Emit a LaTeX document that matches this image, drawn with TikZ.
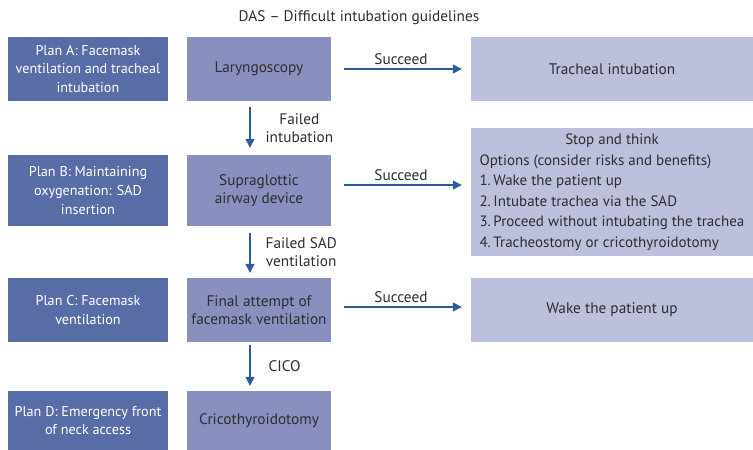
\documentclass[tikz,border=0pt]{standalone}
\usepackage{fontspec}
\setmainfont{PT Sans}
\usetikzlibrary{arrows.meta}

\definecolor{planblue}{HTML}{586CA5}
\definecolor{stepblue}{HTML}{8990BF}
\definecolor{outblue}{HTML}{BCC0DD}
\definecolor{arrowblue}{HTML}{2D5C9B}
\definecolor{txtgray}{HTML}{2E2E2E}

\begin{document}
\begin{tikzpicture}[x=1pt, y=-1pt,
    every node/.style={font=\fontsize{15.3}{18.5}\selectfont, text=txtgray, inner sep=0pt},
    plan/.style={fill=planblue, text=white, align=center, minimum width=160pt,
        font=\fontsize{14.2}{18.7}\selectfont},
    stepbox/.style={fill=stepblue, align=center, minimum width=144pt},
    outbox/.style={fill=outblue, align=center, minimum width=282pt},
    flow/.style={draw=arrowblue, line width=1.2pt, -{Triangle[length=9pt, width=9pt]}},
    lbl/.style={align=center, anchor=west}]
    \useasboundingbox (0,0) rectangle (753,450);

    % title
    \node (title) at (359,18) {DAS -- Difficult intubation guidelines};

    % plans (left column)
    \node[plan, minimum height=64pt] (planA) at (88,69) {Plan A: Facemask\\ventilation and tracheal\\intubation};
    \node[plan, minimum height=71pt] (planB) at (88,190.5) {Plan B: Maintaining\\oxygenation: SAD\\insertion};
    \node[plan, minimum height=64pt] (planC) at (88,310) {Plan C: Facemask\\ventilation};
    \node[plan, minimum height=59pt] (planD) at (88,420.5) {Plan D: Emergency front\\of neck access};

    % steps (middle column)
    \node[stepbox, minimum height=64pt] (lary) at (259,69) {Laryngoscopy};
    \node[stepbox, minimum height=71pt] (sad) at (259,190.5) {Supraglottic\\airway device};
    \node[stepbox, minimum height=64pt] (fmv) at (259,310) {Final attempt of\\facemask ventilation};
    \node[stepbox, minimum height=59pt] (crico) at (259,420.5) {Cricothyroidotomy};

    % outcomes (right column)
    \node[outbox, minimum height=64pt] (intub) at (612,69) {Tracheal intubation};
    \node[outbox, minimum height=128pt] (think) at (612,192) {\fontsize{15}{20.5}\selectfont
        \begin{tabular}{@{}l@{}}
        \multicolumn{1}{@{}c@{}}{Stop and think}\\
        Options (consider risks and benefits)\\
        1.\,Wake the patient up\\
        2.\,Intubate trachea via the SAD\\
        3.\,Proceed without intubating the trachea\\
        4.\,Tracheostomy or cricothyroidotomy
        \end{tabular}};
    \node[outbox, minimum height=64pt] (wake) at (612,310) {Wake the patient up};

    % succeed arrows
    \draw[flow, shorten <=13pt, shorten >=9pt] (lary.east) -- (intub.west)
        node[midway, above=4pt] {Succeed};
    \draw[flow, shorten <=13pt, shorten >=9pt] ([yshift=5.5pt]sad.east) -- ([yshift=5.5pt]sad.east -| think.west)
        node[midway, above=4pt] {Succeed};
    \draw[flow, shorten <=13pt, shorten >=9pt] ([yshift=3pt]fmv.east) -- ([yshift=3pt]fmv.east -| wake.west)
        node[midway, above=4pt] {Succeed};

    % failure arrows
    \draw[flow, shorten <=6pt, shorten >=7pt] ([xshift=-9pt]lary.south) -- ([xshift=-9pt]sad.north)
        node[midway, lbl, xshift=15pt] {Failed\\intubation};
    \draw[flow, shorten <=7pt, shorten >=5pt] ([xshift=-9pt]sad.south) -- ([xshift=-9pt]fmv.north)
        node[midway, lbl, xshift=15pt] {Failed SAD\\ventilation};
    \draw[flow, shorten <=3pt, shorten >=5pt] ([xshift=-9pt]fmv.south) -- ([xshift=-9pt]crico.north)
        node[midway, lbl, xshift=18pt] {CICO};
\end{tikzpicture}
\end{document}
